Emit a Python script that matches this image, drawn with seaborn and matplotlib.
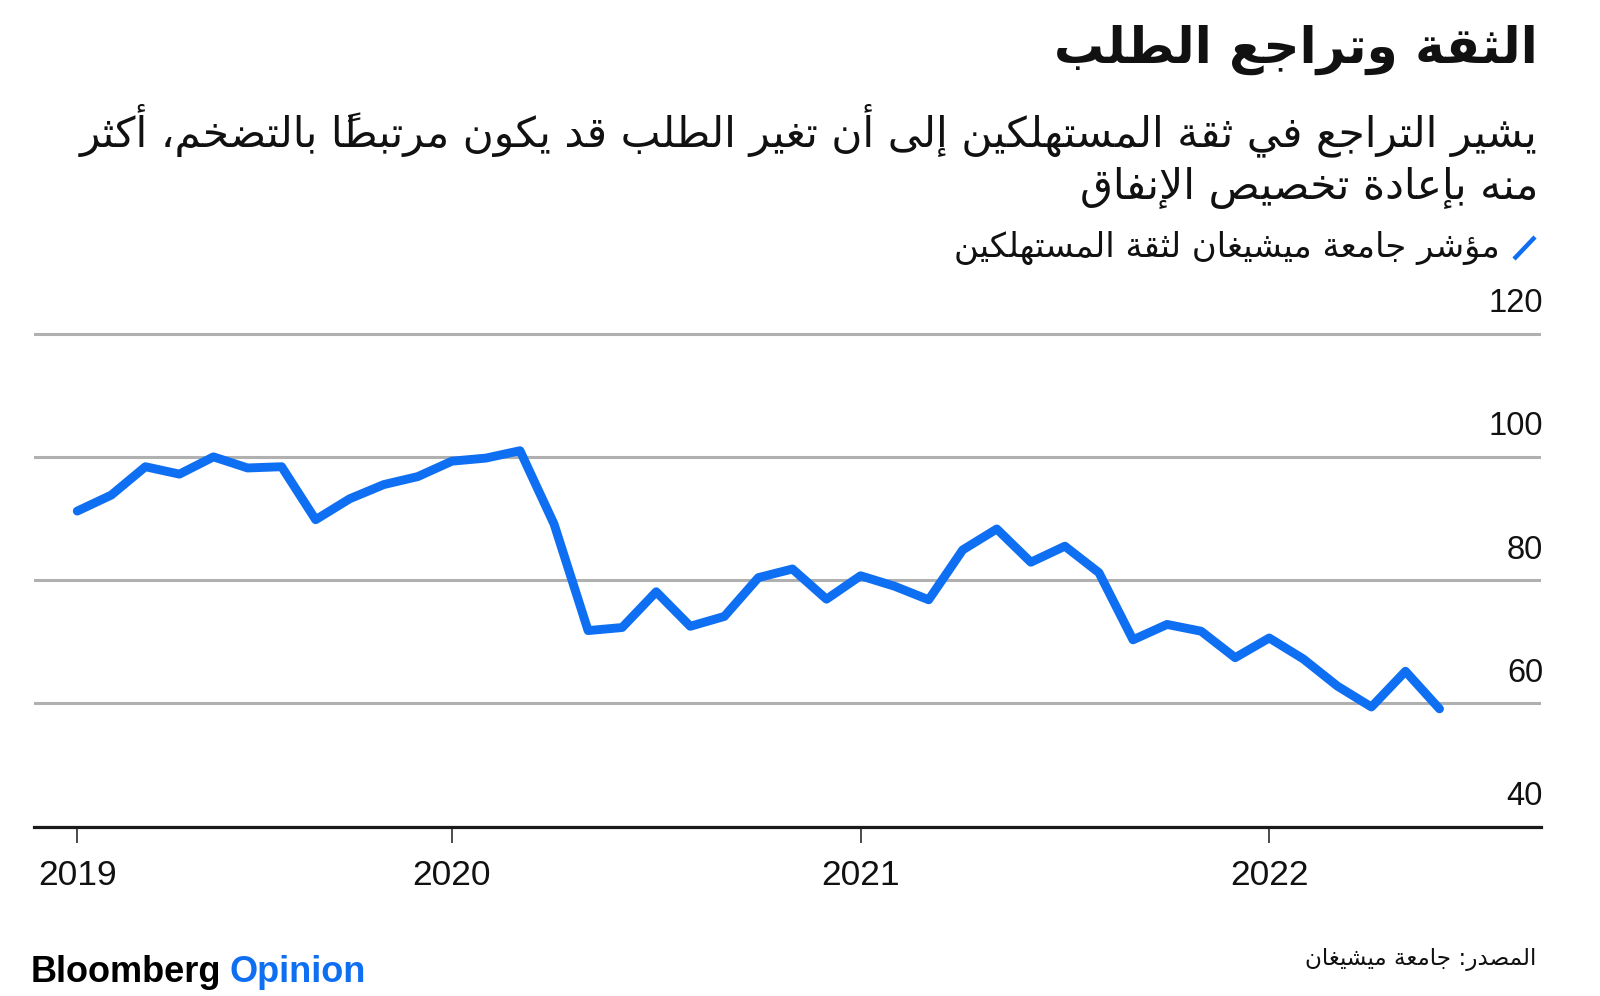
import pandas as pd
import seaborn as sns
import matplotlib.pyplot as plt
import matplotlib.transforms as mtransforms
from matplotlib.lines import Line2D

# data: University of Michigan consumer sentiment, monthly Jan 2019 - May 2022
months = pd.period_range("2019-01", "2022-05", freq="M").astype(str)
sentiment = [91.2, 93.8, 98.4, 97.2, 100.0, 98.2, 98.4, 89.8, 93.2, 95.5, 96.8, 99.3,
             99.8, 101.0, 89.1, 71.8, 72.3, 78.1, 72.5, 74.1, 80.4, 81.8, 76.9, 80.7,
             79.0, 76.8, 84.9, 88.3, 82.9, 85.5, 81.2, 70.3, 72.8, 71.7, 67.4, 70.6,
             67.2, 62.8, 59.4, 65.2, 59.1]
year_labels = ["2019", "2020", "2021", "2022"]
year_ticks = [0, 11, 23, 35]
y_ticks = [40, 60, 80, 100, 120]

title = "الثقة وتراجع الطلب"
subtitle = ["يشير التراجع في ثقة المستهلكين إلى أن تغير الطلب قد يكون مرتبطاً بالتضخم، أكثر",
            "منه بإعادة تخصيص الإنفاق"]
legend_label = "مؤشر جامعة ميشيغان لثقة المستهلكين"
source = "المصدر: جامعة ميشيغان"

BLUE = "#0f6ff2"

# small arabic shaper (presentation forms + visual order), matplotlib has no bidi
_letters = [("\u0621", 0xFE80, 1), ("\u0622", 0xFE81, 2), ("\u0623", 0xFE83, 2),
            ("\u0624", 0xFE85, 2), ("\u0625", 0xFE87, 2), ("\u0626", 0xFE89, 4),
            ("\u0627", 0xFE8D, 2), ("\u0628", 0xFE8F, 4), ("\u0629", 0xFE93, 2),
            ("\u062A", 0xFE95, 4), ("\u062B", 0xFE99, 4), ("\u062C", 0xFE9D, 4),
            ("\u062D", 0xFEA1, 4), ("\u062E", 0xFEA5, 4), ("\u062F", 0xFEA9, 2),
            ("\u0630", 0xFEAB, 2), ("\u0631", 0xFEAD, 2), ("\u0632", 0xFEAF, 2),
            ("\u0633", 0xFEB1, 4), ("\u0634", 0xFEB5, 4), ("\u0635", 0xFEB9, 4),
            ("\u0636", 0xFEBD, 4), ("\u0637", 0xFEC1, 4), ("\u0638", 0xFEC5, 4),
            ("\u0639", 0xFEC9, 4), ("\u063A", 0xFECD, 4), ("\u0641", 0xFED1, 4),
            ("\u0642", 0xFED5, 4), ("\u0643", 0xFED9, 4), ("\u0644", 0xFEDD, 4),
            ("\u0645", 0xFEE1, 4), ("\u0646", 0xFEE5, 4), ("\u0647", 0xFEE9, 4),
            ("\u0648", 0xFEED, 2), ("\u0649", 0xFEEF, 2), ("\u064A", 0xFEF1, 4)]
FORMS = {c: (b, n) for c, b, n in _letters}
LAM_ALEF = {"\u0622": 0xFEF5, "\u0623": 0xFEF7, "\u0625": 0xFEF9, "\u0627": 0xFEFB}


def is_mark(c):
    return "\u064B" <= c <= "\u065F" or c == "\u0670"


def ar(text):
    ch = list(text)
    n = len(ch)

    def prev_letter(i):
        j = i - 1
        while j >= 0 and is_mark(ch[j]):
            j -= 1
        return ch[j] if j >= 0 else None

    def next_idx(i):
        j = i + 1
        while j < n and is_mark(ch[j]):
            j += 1
        return j if j < n else None

    clusters = []
    i = 0
    while i < n:
        c = ch[i]
        if is_mark(c) and clusters:
            clusters[-1] += c
            i += 1
            continue
        if c not in FORMS:
            clusters.append(c)
            i += 1
            continue
        base, nf = FORMS[c]
        p = prev_letter(i)
        joins_prev = nf > 1 and p in FORMS and FORMS[p][1] == 4
        j = next_idx(i)
        nxt = ch[j] if j is not None else None
        if c == "\u0644" and nxt in LAM_ALEF:
            clusters.append(chr(LAM_ALEF[nxt] + (1 if joins_prev else 0)))
            i = j + 1
            continue
        joins_next = nf == 4 and nxt in FORMS and FORMS[nxt][1] > 1
        if nf == 4:
            off = 3 if (joins_prev and joins_next) else 1 if joins_prev else 2 if joins_next else 0
        elif nf == 2:
            off = 1 if joins_prev else 0
        else:
            off = 0
        clusters.append(chr(base + off))
        i += 1
    return "".join(reversed(clusters))


sns.set_theme(style="white")
plt.rcParams["font.family"] = ["DejaVu Sans"]

W, H = 1600, 996
fig = plt.figure(figsize=(W / 100, H / 100), dpi=100)
fig.patch.set_facecolor("white")

# axes: 40 at y=826.5 px, 120 at y=333.7 px
ax = fig.add_axes([34 / W, 1 - 826.5 / H, (1541 - 34) / W, (826.5 - 327.5) / H])
df = pd.DataFrame({"month": range(len(sentiment)), "label": months, "sentiment": sentiment})
sns.lineplot(data=df, x="month", y="sentiment", ax=ax, color=BLUE, linewidth=6.4)

ax.set_xlim(-1.27, 42.98)
ax.set_ylim(40, 121)
ax.set_xlabel("")
ax.set_ylabel("")

for s in ["top", "left", "right"]:
    ax.spines[s].set_visible(False)
ax.spines["bottom"].set_color("#1a1a1a")
ax.spines["bottom"].set_linewidth(2.3)

ax.set_yticks(y_ticks)
ax.yaxis.grid(True, color="#b0b0b0", linewidth=2.2)
ax.set_axisbelow(True)
ax.tick_params(axis="y", length=0, labelleft=False, labelright=False)

num_font = "Liberation Sans"
trans = mtransforms.blended_transform_factory(ax.transAxes, ax.transData)
for v in y_ticks:
    ax.annotate(str(v), xy=(1, v), xycoords=trans, xytext=(1.5, 15.5),
                textcoords="offset points", ha="right", va="baseline",
                fontsize=23.5, family=num_font, color="#111111", annotation_clip=False)

ax.set_xticks(year_ticks)
ax.set_xticklabels(year_labels, family=num_font, fontsize=25.5, color="#111111")
ax.tick_params(axis="x", direction="out", length=11.5, width=1.1, color="#1a1a1a",
               pad=12, bottom=True)

# titles
R = 1538 / W
fig.text(R, 1 - 50 / H, ar(title), ha="right", va="center", fontsize=36,
         fontweight="bold", color="#111111")
fig.text(R, 1 - 130 / H, ar(subtitle[0]), ha="right", va="center", fontsize=30.5,
         color="#111111")
fig.text(R, 1 - 188 / H, ar(subtitle[1]), ha="right", va="center", fontsize=30.5,
         color="#111111")

# legend
fig.text(1500 / W, 1 - 248 / H, ar(legend_label), ha="right", va="center",
         fontsize=24.4, color="#111111")
fig.add_artist(Line2D([1514 / W, 1535 / W], [1 - 259 / H, 1 - 237 / H],
                      transform=fig.transFigure, color=BLUE, linewidth=3.2,
                      solid_capstyle="butt"))

# footer
t1 = fig.text(31 / W, 1 - 982 / H, "Bloomberg", ha="left", va="baseline",
              fontsize=26, fontweight="bold", family=num_font, color="#000000")
ax.annotate("Opinion", xy=(1, 0), xycoords=t1, xytext=(6, 0),
            textcoords="offset points", ha="left", va="bottom",
            fontsize=26, fontweight="bold", family=num_font, color=BLUE)
fig.text(1536 / W, 1 - 959 / H, ar(source), ha="right", va="center",
         fontsize=16.7, color="#111111")

fig.savefig("out.png", dpi=100, facecolor="white")
